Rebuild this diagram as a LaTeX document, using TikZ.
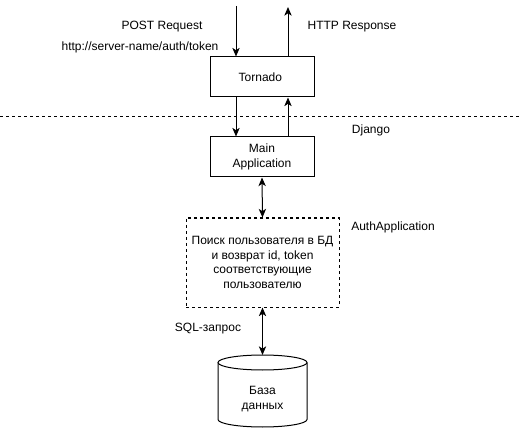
\documentclass[tikz,border=0pt]{standalone}
\usepackage{fontspec}
\setmainfont{Liberation Sans}
\usetikzlibrary{positioning,arrows.meta}

\tikzset{
  box/.style = {draw, line width=0.75pt, minimum width=78pt, minimum height=30pt, align=center},
  label/.style = {inner sep=0pt},
  arr/.style = {line width=0.75pt, -{Stealth[length=6.5pt,width=5.5pt,inset=1.8pt]}},
  dbl/.style = {line width=0.75pt, {Stealth[length=6.5pt,width=5.5pt,inset=1.8pt]}-{Stealth[length=6.5pt,width=5.5pt,inset=1.8pt]}}
}

\begin{document}
\begin{tikzpicture}[x = 0.75pt, y = -0.75pt, font = \fontsize{9}{10.8}\selectfont]
  \useasboundingbox (0, 0) rectangle (522, 428);

  \node[box] (tornado) at (262, 77) {
    Tornado
  };

  \node[box] (main) at (262, 157) {
    Main\\Application
  };

  \node[box, dashed, dash pattern = on 2.25pt off 2.25pt, minimum width = 114.75pt, minimum height = 66.75pt] (auth) at (262.5, 262.5) {
    Поиск пользователя в БД\\и возврат id, token\\соответствующие\\пользователю
  };

  \node[align = center] (db) at (262.5, 399) {
    База\\данных
  };

  \node[label] (post) at (162, 27) {
    POST Request
  };

  \node[label] (url) at (140, 47) {
    http://server-name/auth/token
  };

  \node[label] (resp) at (352, 27) {
    HTTP Response
  };

  \node[label] (django) at (371, 130) {
    Django
  };

  \node[label] (authname) at (393, 227) {
    AuthApplication
  };

  \node[label] (sql) at (208, 329) {
    SQL-запрос
  };

  % cylinder
  \draw[line width = 0.75pt] ([shift = {(-44.5, -36.5)}]db.center) -- ++(0, 57)
    arc[start angle = 180, end angle = 360, x radius = 33.375pt, y radius = 5.625pt] -- ++(0, -57);
  \draw[line width = 0.75pt] ([shift = {(0, -36.5)}]db.center) ellipse[x radius = 33.375pt, y radius = 5.625pt];
  \coordinate (dbtop) at ([shift = {(0, -44)}]db.center);

  \coordinate (in) at (236, 6);
  \coordinate (out) at (288, 7);
  \coordinate (left) at (0, 117);
  \coordinate (right) at (522, 117);

  \draw[line width = 0.75pt, dash pattern = on 2.25pt off 2.25pt] (left) -- (right);

  \draw[arr] (in) -- (in |- tornado.north);
  \draw[arr] (out |- tornado.north) -- (out);
  \draw[arr] (in |- tornado.south) -- (in |- main.north);
  \draw[arr] (out |- main.north) -- (out |- tornado.south);
  \draw[dbl] (main.south) -- (auth.north);
  \draw[dbl] (auth.south) -- (dbtop);
\end{tikzpicture}
\end{document}
